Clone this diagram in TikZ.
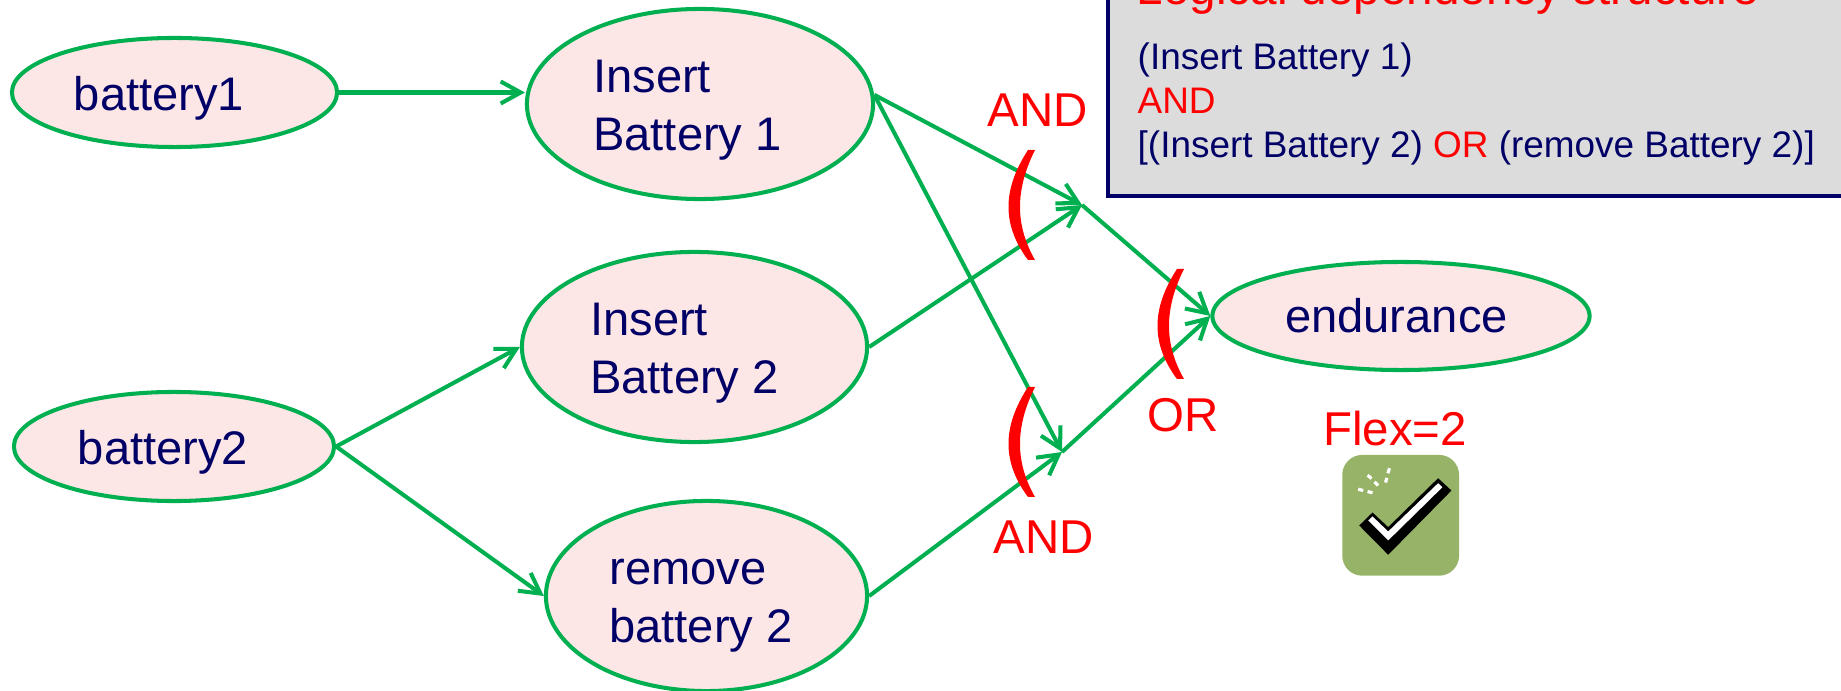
\documentclass[tikz,border=0pt]{standalone}
\usepackage{fontspec}
\setmainfont{Liberation Sans}
\usetikzlibrary{shapes.geometric,arrows.meta}
\definecolor{navytext}{HTML}{000066}
\definecolor{linkgreen}{HTML}{00B050}
\definecolor{pillfill}{HTML}{FDE6E6}
\definecolor{boxgray}{HTML}{DCDCDC}
\definecolor{iconolive}{HTML}{97B368}
\newcommand{\droptext}{\rule{0pt}{4.5mm}}
\tikzset{
  pill/.style={ellipse,draw=linkgreen,line width=1.15pt,fill=pillfill,inner sep=0pt,
    text=navytext,align=left,font=\fontsize{13.4pt}{16.3pt}\selectfont},
  link/.style={draw=linkgreen,line width=1.15pt,-{Straight Barb[length=2mm,width=2.2mm]}},
  logic/.style={text=red,inner sep=0pt,font=\fontsize{13.5pt}{16pt}\selectfont},
  boxline/.style={anchor=base west,inner sep=0pt,font=\fontsize{10.5pt}{12.5pt}\selectfont}
}
\begin{document}
\begin{tikzpicture}[x=0.01cm,y=-0.01cm]
  \useasboundingbox (0,0) rectangle (1841,691);
  \clip (0,0) rectangle (1841,691);
  % left column
  \node[pill,minimum width=3.25cm,minimum height=1.09cm] (battery1) at (174.5,92.5) {\droptext battery1\hspace*{3.1mm}};
  \node[pill,minimum width=3.2cm,minimum height=1.09cm] (battery2) at (174,446.5) {\droptext battery2\hspace*{2.2mm}};
  % tasks
  \node[pill,minimum width=3.46cm,minimum height=1.9cm] (insertone) at (700,104) {\droptext Insert\\Battery 1\hspace*{2.5mm}};
  \node[pill,minimum width=3.45cm,minimum height=1.9cm] (inserttwo) at (694.5,347) {\droptext Insert\\Battery 2\hspace*{2mm}};
  \node[pill,minimum width=3.21cm,minimum height=1.9cm] (removetwo) at (706.5,596) {\droptext remove\\battery 2\hspace*{1.1mm}};
  \node[pill,minimum width=3.77cm,minimum height=1.08cm] (endurance) at (1401,316) {endurance\hspace*{0.9mm}};
  \coordinate (andtop) at (1082,205);
  \coordinate (andbot) at (1062,452);
  % connectors
  \draw[link] (battery1.east) -- (insertone.west |- battery1.east);
  \draw[link] (battery2.east) -- (inserttwo.west);
  \draw[link] (battery2.east) -- (removetwo.west);
  \draw[link] (insertone.3) -- (andtop);
  \draw[link] (insertone.3) -- (andbot);
  \draw[link] (inserttwo.east) -- (andtop);
  \draw[link] (removetwo.east) -- (andbot);
  \draw[link] (andtop) -- (endurance.west);
  \draw[link] (andbot) -- (endurance.west);
  % red brackets
  \foreach \ax/\ay in {1028/150,1028/387,1177/269}{
    \begin{scope}[shift={(\ax,\ay)}]
      \fill[red] (0,0) .. controls (-26,40) and (-26,75) .. (0,110) -- (7,110)
        .. controls (-13,75) and (-13,40) .. (7,0) -- cycle;
    \end{scope}
  }
  \node[logic] (andupper) at (1038,110) {AND};
  \node[logic] (andlower) at (1044,537) {AND};
  \node[logic] (orlabel) at (1183,415) {OR};
  \node[logic] (flexlabel) at (1395,429) {Flex=2};
  % grey box, runs off the page
  \draw[draw=navytext,line width=1.15pt,fill=boxgray] (1108,-20) rectangle (1860,196);
  \node[boxline,text=red,font=\fontsize{13.55pt}{13.5pt}\selectfont] (boxtitle) at (1136,5) {Logical dependency structure};
  \node[boxline,text=navytext] (boxone) at (1137,70) {(Insert Battery 1)};
  \node[boxline,text=red] (boxtwo) at (1137,114) {AND};
  \node[boxline,text=navytext] (boxthree) at (1137,158) {[(Insert Battery 2) \textcolor{red}{OR} (remove Battery 2)]};
  % check icon
  \begin{scope}[shift={(1300,400)},x=0.00333cm,y=-0.00333cm]
    \fill[iconolive,rounded corners=0.2cm] (127,165) rectangle (478,528);
    \fill[black] (178,377) -- (218,338) -- (265,382) -- (415,235) -- (455,272) -- (265,465) -- cycle;
    \fill[white] (205,362) -- (218,350) -- (265,395) -- (415,250) -- (428,262) -- (265,422) -- cycle;
    \foreach \xa/\ya/\xb/\yb in {175/268/190/272,203/275/218/279,203/226/215/236,224/246/235/257,257/248/261/234,264/220/269/205}{
      \draw[white,line width=0.9pt] (\xa,\ya) -- (\xb,\yb);
    }
  \end{scope}
\end{tikzpicture}
\end{document}
